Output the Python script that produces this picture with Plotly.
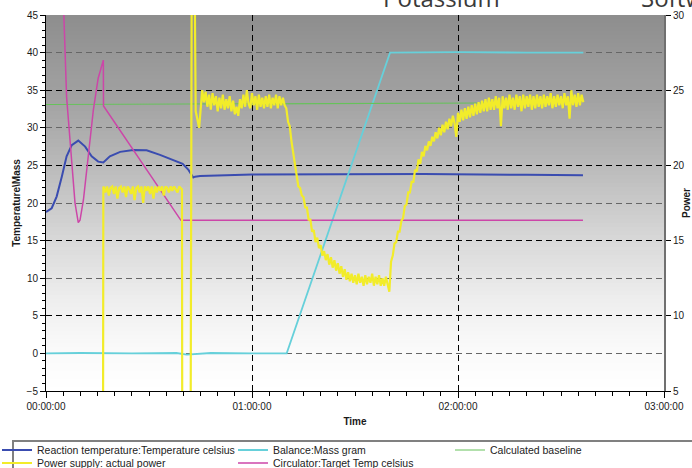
import plotly.graph_objects as go

# ---------------- data (time axis in minutes) ----------------
react_t = [0.0, 0.2, 1.65, 3.1, 4.6, 6.0, 7.5, 9.4, 11.4, 13.3, 15.2, 16.7, 18.6, 21.6, 25.4,
           29.3, 33.2, 37.1, 39.8, 41.5, 42.4, 42.9, 43.4, 44.9, 60.0, 80.0, 110.0, 140.0, 156.4]
react_v = [18.9, 18.85, 19.3, 20.85, 23.5, 26.2, 27.7, 28.3, 27.5, 26.2, 25.5, 25.4, 26.2, 26.8, 27.05,
           27.0, 26.4, 25.7, 25.2, 24.4, 23.7, 23.4, 23.5, 23.6, 23.8, 23.85, 23.85, 23.75, 23.7]

mass_t = [0.0, 10.0, 25.0, 38.0, 41.0, 48.0, 60.0, 70.1, 100.2, 120.0, 140.0, 156.5]
mass_v = [0.0, 0.05, 0.0, 0.05, -0.15, 0.05, 0.0, 0.0, 40.0, 40.05, 40.0, 40.0]

base_t = [0.0, 60.0, 128.4]
base_v = [33.1, 33.2, 33.3]

circ_t = [4.0, 5.2, 6.0, 7.5, 8.45, 9.4, 9.9, 10.9, 12.3, 13.8, 15.2, 16.7, 16.75, 39.3, 156.4]
circ_v = [57.0, 45.0, 34.1, 24.8, 20.0, 17.4, 17.7, 20.4, 26.2, 32.4, 36.6, 39.0, 32.9, 17.7, 17.7]

# power supply (right axis) - read in pieces
pwr_start_t = [0.0, 16.6, 16.7]
pwr_start_v = [0.0, 0.0, 18.5]

pwr_plateau1_t0 = 16.8
pwr_plateau1_v = [18.6, 18.2, 18.6, 18.0, 18.5, 18.6, 18.1, 18.6, 17.8, 18.5, 18.6, 18.2, 18.6, 17.9,
                  18.6, 18.4, 18.1, 18.6, 17.7, 18.5, 18.6, 18.2, 18.6, 17.5, 18.6, 18.3, 18.6, 18.1,
                  18.6, 17.8, 18.6, 18.2, 18.6, 18.3, 18.6, 18.0, 18.6, 18.5, 18.2, 18.6, 18.3, 18.6,
                  18.4, 18.2, 18.6, 18.5]

pwr_spike_t = [39.6, 39.7, 42.1, 42.5, 43.1, 43.6, 44.6]
pwr_spike_v = [18.4, 0.0, 0.0, 38.0, 38.0, 23.6, 22.5]

pwr_plateau2_t0 = 45.5
pwr_plateau2_v = [25.0, 24.2, 24.9, 23.9, 24.7, 23.7, 24.8, 24.0, 24.6, 23.6, 24.5, 23.8, 24.7, 23.7,
                  24.4, 23.8, 24.6, 23.6, 24.3, 23.4, 23.9, 23.3, 24.4, 23.8, 24.7, 23.9, 25.0, 24.1,
                  23.8, 24.8, 24.0, 24.6, 23.7, 24.7, 23.9, 24.5, 23.8, 24.6, 23.9, 24.7, 23.8, 24.5,
                  24.0, 24.7, 23.8, 24.6, 24.0, 24.5, 24.0]

pwr_tail_t0 = 70.0
pwr_tail_v = [23.8, 22.9, 22.6, 21.6, 20.9, 19.9, 19.4, 18.6, 18.5, 18.0, 17.9, 17.2, 17.2, 16.4,
              16.4, 15.6, 15.7, 14.9, 15.2, 14.5, 14.7, 14.0, 14.3, 13.7, 14.1, 13.4, 13.9, 13.2,
              13.7, 13.0, 13.5, 12.8, 13.3, 12.6, 13.1, 12.4, 12.9, 12.3, 12.8, 12.2, 12.7, 12.1,
              12.8, 12.2, 12.6, 12.0, 12.7, 12.1, 12.6, 12.2, 12.8, 12.0, 12.6, 12.1, 12.7, 12.0,
              12.5, 12.0, 12.6, 12.1, 11.6, 13.6, 14.0, 14.8, 14.9, 15.6, 15.6, 16.3, 16.5, 17.3,
              17.4, 18.2, 18.2, 18.9, 18.9, 19.7, 19.6, 20.4, 20.1, 20.9, 20.6, 21.3, 21.0, 21.6,
              21.3, 21.9, 21.6, 22.2, 21.8, 22.5, 22.0, 22.7, 22.2, 22.9, 22.4, 23.1, 22.6, 23.3,
              22.8, 21.9, 23.5, 22.9, 23.7, 23.0, 23.8, 23.1, 23.9, 23.2, 24.0, 23.3, 24.1, 23.4,
              24.2, 23.5, 24.3, 23.6, 24.4, 23.6, 24.5, 23.7, 24.4, 23.7, 24.6, 23.8, 24.5, 22.6,
              24.6, 23.8, 24.5, 23.7, 24.7, 23.8, 24.5, 23.7, 24.7, 23.9, 24.6, 23.6, 24.7, 23.8,
              24.6, 23.9, 24.7, 23.7, 24.6, 23.8, 24.7, 23.9, 24.6, 23.8, 24.7, 23.9, 24.6, 24.0,
              24.8, 23.8, 24.6, 23.9, 24.7, 24.0, 24.6, 23.8, 24.8, 24.0, 24.6, 23.1, 25.0, 24.0,
              24.7, 23.9, 24.8, 24.0, 24.7, 24.2]
PWR_STEP = 0.5

x_tickvals = [0, 60, 120, 180]
x_ticktext = ["00:00:00", "01:00:00", "02:00:00", "03:00:00"]

names = ["Reaction temperature:Temperature celsius", "Balance:Mass gram", "Calculated baseline",
         "Power supply: actual power", "Circulator:Target Temp celsius"]


def seg_times(t0, vals):
    return [t0 + i * PWR_STEP for i in range(len(vals))]


pwr_t = (pwr_start_t + seg_times(pwr_plateau1_t0, pwr_plateau1_v) + pwr_spike_t
         + seg_times(pwr_plateau2_t0, pwr_plateau2_v) + seg_times(pwr_tail_t0, pwr_tail_v))
pwr_v = pwr_start_v + pwr_plateau1_v + pwr_spike_v + pwr_plateau2_v + pwr_tail_v

FONT = "Liberation Sans, Arial, sans-serif"
W, H = 692, 468
ML, MR, MT, MB = 46, 28, 15, 77
PW, PH = W - ML - MR, H - MT - MB


def px_x(px):
    return (px - ML) / PW


def px_y(py):
    return (H - MB - py) / PH


fig = go.Figure()
fig.add_trace(go.Scatter(x=react_t, y=react_v, name=names[0], mode="lines",
                         line=dict(color="#3a4cb0", width=2), legend="legend"))
fig.add_trace(go.Scatter(x=mass_t, y=mass_v, name=names[1], mode="lines",
                         line=dict(color="#66d0da", width=1.8), legend="legend2"))
fig.add_trace(go.Scatter(x=base_t, y=base_v, name=names[2], mode="lines",
                         line=dict(color="#66c25a", width=1.2), legend="legend3"))
fig.add_trace(go.Scatter(x=circ_t, y=circ_v, name=names[4], mode="lines",
                         line=dict(color="#cc46a8", width=1.5), legend="legend5"))
fig.add_trace(go.Scatter(x=pwr_t, y=pwr_v, name=names[3], mode="lines", yaxis="y2",
                         line=dict(color="#f2ec2a", width=2.2), legend="legend4"))

# background gradient of the plot area (style only)
stops = [(15, 142), (100, 162), (150, 180), (200, 200), (250, 220), (300, 238), (350, 250), (391, 255)]
shapes = []
band = 4
py = MT
while py < H - MB:
    mid = py + band / 2
    for (a, ga), (b, gb) in zip(stops[:-1], stops[1:]):
        if a <= mid <= b:
            g = ga + (gb - ga) * (mid - a) / (b - a)
            break
    g = int(round(g))
    shapes.append(dict(type="rect", xref="paper", yref="paper", x0=0, x1=1,
                       y0=px_y(min(py + band, H - MB)), y1=px_y(py), line=dict(width=0),
                       fillcolor=f"rgb({g},{g},{g})", layer="below"))
    py += band
# legend frame
shapes.append(dict(type="rect", xref="paper", yref="paper", x0=px_x(13), x1=px_x(705),
                   y0=px_y(480), y1=px_y(441), line=dict(color="#808080", width=2),
                   fillcolor="white", layer="below"))

leg_common = dict(xanchor="left", yanchor="middle", bgcolor="rgba(0,0,0,0)", borderwidth=0,
                  font=dict(family=FONT, size=10.5, color="#222222"), itemwidth=30)
col_x = [px_x(-3), px_x(233), px_x(450)]
row_y = [px_y(450), px_y(463)]

fig.update_layout(
    width=W, height=H, showlegend=True,
    margin=dict(l=ML, r=MR, t=MT, b=MB, autoexpand=False),
    paper_bgcolor="white", plot_bgcolor="rgba(0,0,0,0)",
    font=dict(family=FONT, size=10, color="#1a1a1a"),
    shapes=shapes,
    xaxis=dict(range=[0, 180], tickvals=x_tickvals, ticktext=x_ticktext, ticks="outside", ticklen=6,
               tickcolor="black", showline=True, linecolor="black", linewidth=1,
               showgrid=True, gridcolor="black", griddash="6px,4px", gridwidth=1, zeroline=False,
               minor=dict(dtick=5, tick0=0, ticks="outside", ticklen=4, tickcolor="black", showgrid=False),
               title=dict(text="<b>Time</b>", font=dict(size=10), standoff=6), automargin=False),
    yaxis=dict(range=[-5, 45], dtick=5, tick0=0, ticks="outside", ticklen=5, tickcolor="black",
               showline=True, linecolor="black", linewidth=1, showgrid=True, gridcolor="#666666",
               griddash="6px,4px", gridwidth=1, zeroline=False,
               minor=dict(dtick=1, ticks="outside", ticklen=3, tickcolor="black", showgrid=False),
               title=dict(text="<b>Temperature\\Mass</b>", font=dict(size=10), standoff=4),
               automargin=False),
    yaxis2=dict(overlaying="y", side="right", range=[5, 30], dtick=5, tick0=0, ticks="outside",
                ticklen=5, tickcolor="black", showline=True, linecolor="#707070", linewidth=2,
                showgrid=True, gridcolor="black", griddash="6px,4px", gridwidth=1, zeroline=False,
                title=dict(text="<b>Power</b>", font=dict(size=10), standoff=14), automargin=False),
    legend=dict(x=col_x[0], y=row_y[0], **leg_common),
    legend2=dict(x=col_x[1], y=row_y[0], **leg_common),
    legend3=dict(x=col_x[2], y=row_y[0], **leg_common),
    legend4=dict(x=col_x[0], y=row_y[1], **leg_common),
    legend5=dict(x=col_x[1], y=row_y[1], **leg_common),
    annotations=[
        dict(text="Potassium", xref="paper", yref="paper", x=px_x(441), y=px_y(-2), xanchor="center",
             yanchor="middle", showarrow=False, font=dict(family="Open Sans", size=24, color="#3a3a3a")),
        dict(text="Software", xref="paper", yref="paper", x=px_x(639), y=px_y(-2), xanchor="left",
             yanchor="middle", showarrow=False, font=dict(family="Open Sans", size=24, color="#3a3a3a")),
    ],
)

fig.write_html("out.html", config={"displayModeBar": False},
               post_script="document.body.style.margin='0';document.body.style.overflow='hidden';")
